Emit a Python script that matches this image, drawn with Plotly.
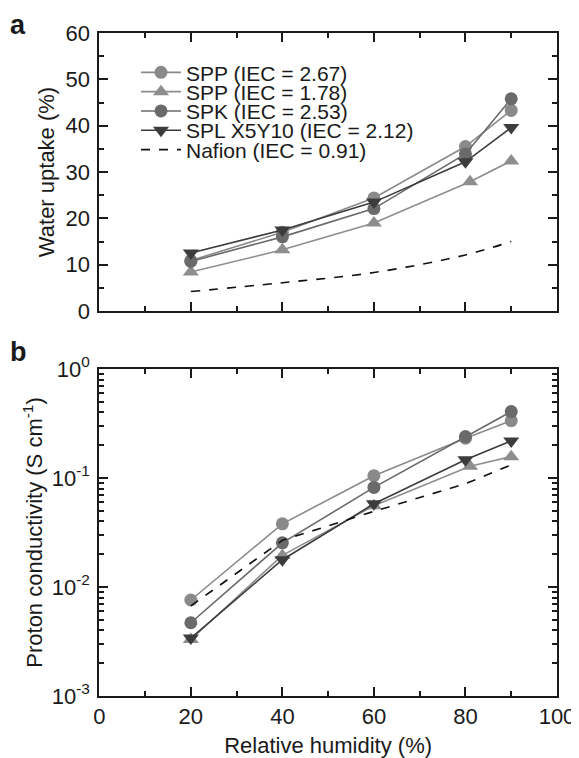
import plotly.graph_objects as go

# ---------------- data ----------------
rh = [20, 40, 60, 80, 90]
rh_spp178 = [20, 40, 60, 81, 90]

names = ["SPP (IEC = 2.67)", "SPP (IEC = 1.78)", "SPK (IEC = 2.53)",
         "SPL X5Y10 (IEC = 2.12)", "Nafion (IEC = 0.91)"]

wu_spp267 = [10.9, 17.0, 24.4, 35.5, 43.3]
wu_spp178 = [8.4, 13.2, 19.0, 27.9, 32.4]
wu_spk253 = [10.7, 16.0, 22.1, 33.9, 45.8]
wu_spl212 = [12.5, 17.5, 23.5, 32.2, 39.6]
wu_nafion = [4.2, 6.1, 8.3, 12.1, 15.0]

pc_spp267 = [0.0076, 0.038, 0.105, 0.232, 0.336]
pc_spp178 = [0.0033, 0.0195, 0.0557, 0.128, 0.157]
pc_spk253 = [0.0047, 0.0254, 0.082, 0.240, 0.407]
pc_spl212 = [0.0034, 0.0178, 0.058, 0.147, 0.219]
pc_nafion = [0.0067, 0.0268, 0.0494, 0.0886, 0.132]

log_tickvals = [0.001, 0.01, 0.1, 1]
log_ticktext = ["10<sup>-3</sup>", "10<sup>-2</sup>", "10<sup>-1</sup>", "10<sup>0</sup>"]

# ---------------- style ----------------
FONT = "Arial, 'Liberation Sans', Helvetica, sans-serif"
styles = [
    dict(color="#8a8a8a", symbol="circle"),
    dict(color="#8e8e8e", symbol="triangle-up"),
    dict(color="#6a6a6a", symbol="circle"),
    dict(color="#3c3c3c", symbol="triangle-down"),
]

fig = go.Figure()

top_series = [(rh, wu_spp267), (rh_spp178, wu_spp178), (rh, wu_spk253), (rh, wu_spl212)]
bot_series = [(rh, pc_spp267), (rh_spp178, pc_spp178), (rh, pc_spk253), (rh, pc_spl212)]
legend_ids = ["legend", "legend2", "legend3", "legend4", "legend5"]

for i, ((x, y), st) in enumerate(zip(top_series, styles)):
    fig.add_trace(go.Scatter(
        x=x, y=y, name=names[i], mode="lines+markers",
        line=dict(color=st["color"], width=1.6),
        marker=dict(symbol=st["symbol"], size=13 if "circle" in st["symbol"] else 14,
                    color=st["color"]),
        xaxis="x", yaxis="y", legend=legend_ids[i]))
fig.add_trace(go.Scatter(
    x=rh, y=wu_nafion, name=names[4], mode="lines",
    line=dict(color="#111111", width=1.6, dash="dash", shape="spline"),
    xaxis="x", yaxis="y", legend=legend_ids[4]))

for i, ((x, y), st) in enumerate(zip(bot_series, styles)):
    fig.add_trace(go.Scatter(
        x=x, y=y, name=names[i], mode="lines+markers", showlegend=False,
        line=dict(color=st["color"], width=1.6),
        marker=dict(symbol=st["symbol"], size=13 if "circle" in st["symbol"] else 14,
                    color=st["color"]),
        xaxis="x2", yaxis="y2"))
fig.add_trace(go.Scatter(
    x=rh, y=pc_nafion, name=names[4], mode="lines", showlegend=False,
    line=dict(color="#111111", width=1.6, dash="dash"),
    xaxis="x2", yaxis="y2"))

# The page body has an 8px default margin, so the figure is drawn 8px in.
OFF = 8
W, H = 579 - OFF, 758 - OFF


def px_x(v):
    return (v - OFF) / W


def px_y(v):
    return 1 - (v - OFF) / H


xdom = [px_x(99.3), px_x(557)]
top_dom = [px_y(311), px_y(33)]
bot_dom = [px_y(696), px_y(369)]

TICKFONT = 22
axis_common = dict(
    showline=True, linecolor="#1a1a1a", linewidth=2, mirror="allticks",
    ticks="inside", tickcolor="#1a1a1a", tickwidth=2, ticklen=9,
    showgrid=False, zeroline=False, automargin=False,
    tickfont=dict(family=FONT, size=TICKFONT, color="#1a1a1a"),
)

fig.update_layout(
    width=W, height=H,
    margin=dict(l=0, r=0, t=0, b=0, autoexpand=False),
    paper_bgcolor="white", plot_bgcolor="white",
    font=dict(family=FONT, color="#1a1a1a"),
    xaxis=dict(domain=xdom, anchor="y", range=[0, 100], dtick=20, tick0=0,
               showticklabels=False,
               minor=dict(ticks="inside", dtick=10, ticklen=5, tickwidth=2, tickcolor="#1a1a1a"),
               **axis_common),
    yaxis=dict(domain=top_dom, anchor="x", range=[0, 60], dtick=10, tick0=0,
               ticklabelstandoff=3,
               minor=dict(ticks="inside", dtick=5, ticklen=5, tickwidth=2, tickcolor="#1a1a1a"),
               title=dict(text="Water uptake (%)", font=dict(family=FONT, size=22), standoff=5),
               **axis_common),
    xaxis2=dict(domain=xdom, anchor="y2", range=[0, 100], dtick=20, tick0=0,
                ticklabelstandoff=0,
                minor=dict(ticks="inside", dtick=10, ticklen=5, tickwidth=2, tickcolor="#1a1a1a"),
                title=dict(text="Relative humidity (%)", font=dict(family=FONT, size=22), standoff=9),
                **axis_common),
    yaxis2=dict(domain=bot_dom, anchor="x2", type="log", range=[-3, 0],
                tickvals=log_tickvals, ticktext=log_ticktext, ticklabelstandoff=3,
                minor=dict(ticks="inside", dtick="D1", ticklen=5, tickwidth=1.5, tickcolor="#1a1a1a"),
                title=dict(text="Proton conductivity (S cm<sup>-1</sup>)",
                           font=dict(family=FONT, size=22), standoff=3),
                **axis_common),
)

legend_rows_px = [72.7, 92.0, 111.3, 130.6, 150.0]
for lid, py in zip(legend_ids, legend_rows_px):
    fig.update_layout({lid: dict(
        x=px_x(136), y=px_y(py), xanchor="left", yanchor="middle",
        bgcolor="rgba(0,0,0,0)", borderwidth=0,
        font=dict(family=FONT, size=21, color="#1a1a1a"),
        itemwidth=40, tracegroupgap=0)})

fig.add_annotation(text="<b>a</b>", x=px_x(8), y=px_y(8), xref="paper", yref="paper",
                   xanchor="left", yanchor="top", showarrow=False,
                   font=dict(family=FONT, size=27, color="#1a1a1a"))
fig.add_annotation(text="<b>b</b>", x=px_x(8), y=px_y(335), xref="paper", yref="paper",
                   xanchor="left", yanchor="top", showarrow=False,
                   font=dict(family=FONT, size=27, color="#1a1a1a"))

fig.write_html("out.html")
